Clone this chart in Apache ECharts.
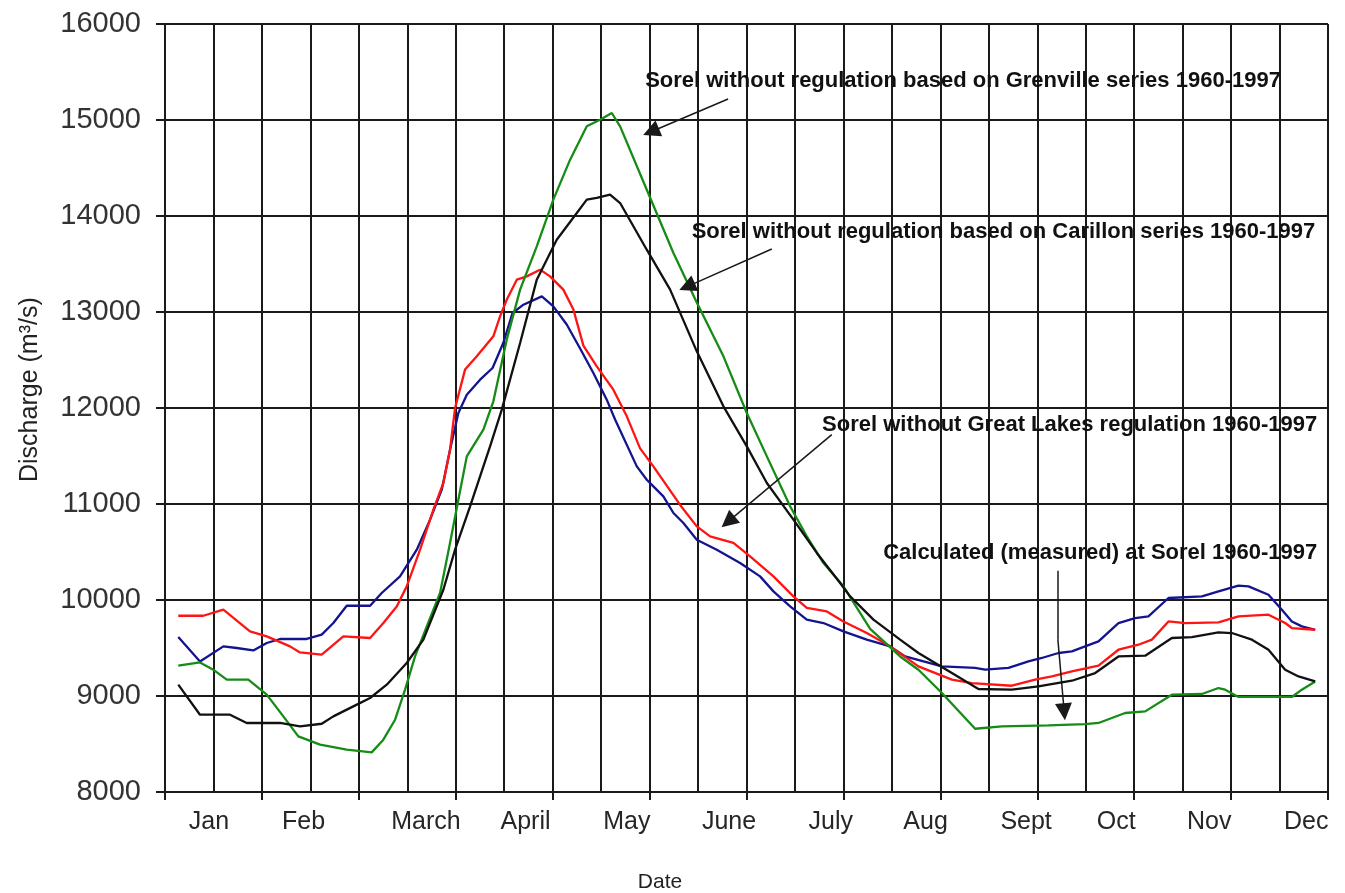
<!DOCTYPE html>
<html><head><meta charset="utf-8">
<script src="https://cdn.jsdelivr.net/npm/echarts@6/dist/echarts.min.js"></script>
<style>html,body{margin:0;padding:0;background:#fff}#c{width:1345px;height:893px}</style>
</head><body><div id="c"></div>
<script>
// ---- categories / tick labels ----
const monthLabels = ['Jan','Feb','March','April','May','June','July','Aug','Sept','Oct','Nov','Dec'];
const monthLabelPos = [0.454,1.429,2.693,3.720,4.765,5.820,6.870,7.848,8.885,9.814,10.774,11.775];
const yMin = 8000, yMax = 16000, yStep = 1000;

// ---- series values: [month position, discharge m3/s] ----
const seriesBlue = [[0.137,9614],[0.361,9360],[0.602,9517],[0.740,9500],[0.911,9475],[1.050,9552],[1.187,9594],[1.462,9594],[1.617,9639],[1.737,9760],[1.875,9940],[2.116,9940],[2.236,10073],[2.425,10246],[2.598,10524],[2.735,10837],[2.856,11149],[2.941,11566],[3.027,11948],[3.114,12139],[3.251,12295],[3.380,12417],[3.491,12680],[3.586,12990],[3.698,13076],[3.888,13163],[4.007,13059],[4.145,12870],[4.283,12620],[4.420,12365],[4.558,12087],[4.644,11880],[4.868,11392],[4.971,11253],[5.039,11184],[5.142,11079],[5.246,10906],[5.349,10802],[5.487,10628],[5.693,10524],[5.934,10385],[6.140,10246],[6.278,10090],[6.450,9933],[6.622,9795],[6.794,9760],[7.000,9673],[7.241,9587],[7.482,9517],[7.637,9412],[8.016,9308],[8.359,9292],[8.462,9274],[8.703,9292],[8.909,9360],[9.047,9396],[9.219,9448],[9.357,9465],[9.494,9517],[9.632,9569],[9.838,9760],[10.010,9812],[10.147,9829],[10.354,10021],[10.699,10038],[10.870,10090],[11.076,10149],[11.180,10142],[11.386,10055],[11.524,9899],[11.627,9777],[11.730,9725],[11.868,9690]];
const seriesRed = [[0.137,9836],[0.395,9836],[0.602,9899],[0.877,9673],[1.050,9621],[1.290,9517],[1.393,9454],[1.617,9430],[1.840,9621],[2.116,9604],[2.253,9760],[2.391,9933],[2.494,10142],[2.632,10524],[2.769,10941],[2.872,11219],[2.941,11566],[2.993,12000],[3.096,12400],[3.217,12538],[3.388,12747],[3.457,12955],[3.526,13128],[3.630,13337],[3.733,13371],[3.870,13441],[3.973,13371],[4.110,13233],[4.214,13025],[4.317,12650],[4.455,12434],[4.626,12191],[4.765,11913],[4.902,11580],[5.039,11392],[5.315,10990],[5.487,10767],[5.624,10663],[5.865,10594],[6.037,10455],[6.278,10246],[6.484,10038],[6.622,9917],[6.829,9881],[7.000,9777],[7.241,9656],[7.482,9517],[7.774,9308],[8.119,9170],[8.325,9135],[8.738,9107],[8.978,9170],[9.151,9204],[9.357,9256],[9.632,9316],[9.838,9482],[10.044,9534],[10.183,9587],[10.354,9777],[10.526,9760],[10.870,9767],[11.076,9829],[11.386,9847],[11.558,9760],[11.627,9708],[11.868,9690]];
const seriesGreen = [[0.137,9316],[0.361,9350],[0.498,9274],[0.637,9170],[0.860,9170],[1.050,9014],[1.221,8788],[1.376,8579],[1.600,8493],[1.875,8441],[2.133,8413],[2.253,8545],[2.374,8753],[2.477,9066],[2.580,9412],[2.701,9725],[2.838,10073],[2.941,10594],[3.027,11045],[3.114,11496],[3.285,11774],[3.388,12070],[3.526,12712],[3.664,13233],[3.836,13684],[4.007,14170],[4.180,14587],[4.352,14934],[4.489,15003],[4.610,15073],[4.696,14934],[4.971,14274],[5.246,13615],[5.487,13100],[5.762,12538],[6.003,11948],[6.210,11496],[6.450,10976],[6.622,10663],[6.794,10385],[7.000,10142],[7.276,9700],[7.585,9412],[7.774,9274],[8.016,9031],[8.359,8659],[8.635,8683],[9.116,8694],[9.494,8708],[9.632,8719],[9.907,8823],[10.114,8840],[10.389,9014],[10.699,9021],[10.870,9083],[10.939,9066],[11.076,8990],[11.627,8990],[11.730,9066],[11.868,9152]];
const seriesBlack = [[0.137,9118],[0.361,8805],[0.671,8805],[0.843,8719],[1.187,8719],[1.393,8683],[1.617,8711],[1.737,8788],[1.943,8892],[2.116,8979],[2.288,9118],[2.494,9344],[2.666,9587],[2.872,10107],[2.993,10524],[3.148,10976],[3.354,11600],[3.475,11983],[3.664,12677],[3.836,13337],[4.042,13753],[4.249,14031],[4.352,14170],[4.455,14188],[4.592,14222],[4.696,14135],[4.971,13649],[5.212,13233],[5.487,12590],[5.762,12017],[6.003,11600],[6.210,11219],[6.484,10837],[6.726,10490],[6.966,10177],[7.069,10038],[7.310,9795],[7.585,9587],[7.774,9448],[8.119,9239],[8.393,9073],[8.738,9066],[9.012,9100],[9.357,9159],[9.598,9239],[9.838,9412],[10.114,9420],[10.389,9604],[10.595,9614],[10.870,9663],[11.008,9656],[11.215,9587],[11.386,9482],[11.558,9274],[11.696,9204],[11.868,9152]];

// ---- annotations (data coordinates) ----
const annotationTexts = [
  'Sorel without regulation based on Grenville series 1960-1997',
  'Sorel without regulation based on Carillon series 1960-1997',
  'Sorel without Great Lakes regulation 1960-1997',
  'Calculated (measured) at Sorel 1960-1997'
];
const annotationAnchors = [[4.954,15409,'left'],[11.868,13837,'right'],[11.889,11826,'right'],[11.889,10493,'right']];
const arrowSegments = [
  [[5.810,15219],[5.015,14878],true],
  [[6.261,13656],[5.387,13264],true],
  [[6.880,11722],[5.810,10816],true],
  [[9.213,10305],[9.213,9587],false],
  [[9.213,9587],[9.278,8836],true]
];

const INK = '#1a1a1a';
const chart = echarts.init(document.getElementById('c'), null, {renderer: 'canvas'});

function lineSeries(name, data, color, z) {
  return {name, type: 'line', data, xAxisIndex: 0, yAxisIndex: 0, showSymbol: false, symbol: 'none',
    lineStyle: {color, width: 2.3}, itemStyle: {color}, silent: true, z, animation: false};
}

const markData = arrowSegments.map(s => s[2]
  ? [{coord: s[0], symbol: 'none'}, {coord: s[1], symbol: 'triangle', symbolSize: 17}]
  : [{coord: s[0], symbol: 'none'}, {coord: s[1], symbol: 'none'}]);

const blackSeries = lineSeries('Sorel without regulation (Carillon)', seriesBlack, '#111111', 5);
blackSeries.markLine = {
  silent: true, animation: false, symbol: ['none', 'triangle'], symbolSize: 17,
  label: {show: false}, emphasis: {disabled: true},
  lineStyle: {color: INK, width: 1.5, type: 'solid'},
  data: markData
};

chart.setOption({
  animation: false,
  backgroundColor: '#ffffff',
  grid: {left: 165, right: 17, top: 24, bottom: 101, containLabel: false, outerBoundsMode: 'none'},
  xAxis: [
    {type: 'value', min: 0, max: 12, interval: 0.5, position: 'bottom',
      axisLine: {show: true, onZero: false, lineStyle: {color: INK, width: 2}},
      axisTick: {show: false}, axisLabel: {show: false},
      splitLine: {show: true, lineStyle: {color: INK, width: 2}}},
    {type: 'value', min: 0, max: 12, interval: 1, position: 'bottom',
      axisLine: {show: false, onZero: false},
      axisTick: {show: true, inside: false, length: 8, lineStyle: {color: INK, width: 2}},
      axisLabel: {show: true, customValues: monthLabelPos, margin: 18, fontSize: 25,
        fontFamily: 'Liberation Sans', color: '#262626',
        formatter: function (v) {
          let best = 0, bd = 1e9;
          monthLabelPos.forEach((p, i) => { const d = Math.abs(p - v); if (d < bd) { bd = d; best = i; } });
          return monthLabels[best];
        }},
      splitLine: {show: false}}
  ],
  yAxis: {type: 'value', min: yMin, max: yMax, interval: yStep,
    axisLine: {show: true, onZero: false, lineStyle: {color: INK, width: 2}},
    axisTick: {show: true, inside: false, length: 9, lineStyle: {color: INK, width: 2}},
    axisLabel: {fontSize: 29, fontFamily: 'Liberation Sans', color: '#333333', margin: 24,
      formatter: function (v) { return String(Math.round(v)); }},
    splitLine: {show: true, lineStyle: {color: INK, width: 2}}},
  series: [
    lineSeries('Calculated (measured) at Sorel', seriesBlue, '#14148f', 2),
    lineSeries('Sorel without Great Lakes regulation', seriesRed, '#ff1414', 3),
    lineSeries('Sorel without regulation (Grenville)', seriesGreen, '#168c16', 4),
    blackSeries
  ]
});

const graphics = annotationTexts.map((t, i) => {
  const a = annotationAnchors[i];
  const p = chart.convertToPixel({seriesIndex: 0}, [a[0], a[1]]);
  return {type: 'text', x: p[0], y: p[1], silent: true, z: 100,
    style: {text: t, fontSize: 22, fontWeight: 'bold', fontFamily: 'Liberation Sans', fill: '#111111',
      align: a[2], verticalAlign: 'middle'}};
});
graphics.push({type: 'text', x: 30, y: 482, rotation: Math.PI / 2, silent: true,
  style: {text: 'Discharge (m³/s)', fontSize: 25, fontFamily: 'Liberation Sans', fill: '#222222',
    align: 'left', verticalAlign: 'middle'}});
graphics.push({type: 'text', x: 660, y: 882, silent: true,
  style: {text: 'Date', fontSize: 21, fontFamily: 'Liberation Sans', fill: '#222222',
    align: 'center', verticalAlign: 'middle'}});
chart.setOption({graphic: graphics});
</script>
</body></html>
